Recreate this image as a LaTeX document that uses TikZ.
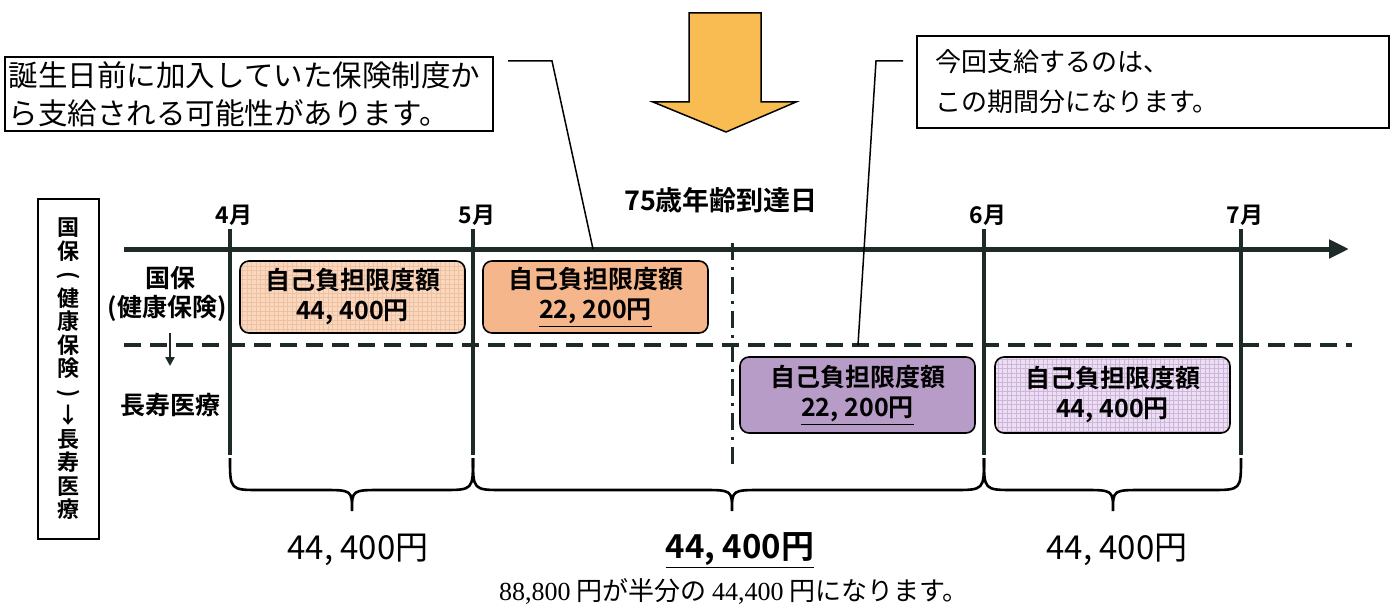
\documentclass[tikz,border=0pt]{standalone}
\usepackage{fontspec}
\usepackage{graphicx}
\usetikzlibrary{arrows.meta}
\newfontfamily\jp{Noto Sans CJK JP}
\newfontfamily\jpbold{Noto Sans CJK JP Bold}
\newfontfamily\lserif{Liberation Serif}
\definecolor{peach}{HTML}{FAD8BE}
\definecolor{peachgrid}{HTML}{EFC0A2}
\definecolor{salmon}{HTML}{F6B68C}
\definecolor{violet}{HTML}{B89CC8}
\definecolor{lavender}{HTML}{EDDFF3}
\definecolor{lavgrid}{HTML}{CDB6DA}
\definecolor{arroworange}{HTML}{F9BC52}
\definecolor{axisc}{HTML}{1E2A28}
\tikzset{
  every node/.style={inner sep=0pt},
  limbox/.style={draw=black, line width=1.6pt, rounded corners=9pt, align=center,
    font=\jpbold\fontsize{25}{30}\selectfont},
  gridfill/.style={path picture={\draw[#1, line width=0.5pt, step=4.5pt]
    (path picture bounding box.south west) grid (path picture bounding box.north east);}},
  callout/.style={draw=black, line width=1.4pt, align=left},
  leader/.style={draw=black, line width=1.5pt},
  monthline/.style={draw=axisc, line width=3.5pt},
  monthlabel/.style={font=\jpbold\fontsize{23}{26}\selectfont},
  sidelabel/.style={font=\jpbold\fontsize{25}{28}\selectfont},
  bracestyle/.style={draw=black, line width=2.6pt},
  amount/.style={font=\jp\fontsize{33}{36}\selectfont},
}
\newcommand\mybrace[3]{\draw[bracestyle] (#1,458) .. controls (#1,490) .. ({#1+30},490) -- ({#2-30},490) .. controls (#2,490) .. (#2,511) .. controls (#2,490) .. ({#2+30},490) -- ({#3-30},490) .. controls (#3,490) .. (#3,458);}
\newcommand\vparen[1]{\rotatebox[origin=c]{-90}{#1}}
\begin{document}
\begin{tikzpicture}[x=1pt,y=-1pt]
\useasboundingbox (0,0) rectangle (1393,607);

% big orange arrow
\draw[fill=arroworange, draw=black, line width=1.5pt, line join=miter]
  (689,13) -- (761,13) -- (761,102) -- (796,102) -- (726,132) -- (653,102) -- (689,102) -- cycle;

% callouts
\node[callout, minimum width=488pt, minimum height=74pt, text width=480pt, inner xsep=4pt,
  font=\jp\fontsize{29.5}{38}\selectfont] (c1) at (249,94)
  {誕生日前に加入していた保険制度か\\ら支給される可能性があります。};
\node[callout, minimum width=472pt, minimum height=92pt, text width=436pt, inner xsep=18pt,
  font=\jp\fontsize{26}{40}\selectfont] (c2) at (1153,82)
  {今回支給するのは、\\この期間分になります。};

% left vertical label
\node[draw=black, line width=1.8pt, minimum width=61pt, minimum height=340pt, align=center,
  font=\jpbold\fontsize{22}{23.5}\selectfont] (vcol) at (68.5,369)
  {国\\保\\\vparen{(}\\健\\康\\保\\険\\\vparen{)}\\↓\\長\\寿\\医\\療};

% coordinates
\coordinate (axL) at (124,249);
\coordinate (axR) at (1349,249);
\coordinate (dL) at (124,345);
\coordinate (dR) at (1352,345);
\foreach \n/\x in {4/230,5/473,6/984,7/1241}{
  \coordinate (t\n) at (\x,229);
  \coordinate (b\n) at (\x,455);
}
\coordinate (dtop) at (732,243);
\coordinate (dbot) at (732,468);

% dashed horizontal line
\draw[draw=axisc, line width=4pt, dash pattern=on 17pt off 9pt] (dL) -- (dR);
% dash-dot vertical line
\draw[draw=axisc, line width=3pt, dash pattern=on 17pt off 7pt on 3pt off 7pt] (dtop) -- (dbot);
% month lines
\foreach \n in {4,5,6,7}{ \draw[monthline] (t\n) -- (b\n); }
% axis
\draw[draw=axisc, line width=5pt, -{Triangle[length=20pt,width=18pt]}] (axL) -- (axR);

% month labels
\node[monthlabel] (m4) at (234,215) {4月};
\node[monthlabel] (m5) at (477,215) {5月};
\node[monthlabel] (m6) at (988,215) {6月};
\node[monthlabel] (m7) at (1245,215) {7月};
\node[font=\jpbold\fontsize{27}{30}\selectfont] (birth) at (721,200) {75歳年齢到達日};

% side labels
\node[sidelabel] (kokuho) at (170,278) {国保};
\node[sidelabel] (kenpo) at (167,308) {(健康保険)};
\coordinate (sa1) at (170,333);
\coordinate (sa2) at (170,366);
\draw[draw=axisc, line width=2.5pt, -{Triangle[length=9pt,width=9pt]}] (sa1) -- (sa2);
\node[sidelabel] (choju) at (170,405) {長寿医療};

% limit boxes
\node[limbox, fill=peach, gridfill=peachgrid, minimum width=225pt, minimum height=72pt] (b1) at (352.5,297)
  {自己負担限度額\\44, 400円};
\node[limbox, fill=salmon, minimum width=225pt, minimum height=72pt] (b2) at (595.5,297)
  {自己負担限度額\\\underline{22, 200円}};
\node[limbox, fill=violet, minimum width=235pt, minimum height=76pt] (b3) at (857.5,395)
  {自己負担限度額\\\underline{22, 200円}};
\node[limbox, fill=lavender, gridfill=lavgrid, minimum width=235pt, minimum height=76pt] (b4) at (1112.5,395)
  {自己負担限度額\\44, 400円};

% leader lines
\coordinate (l1s) at (508,61);
\coordinate (l1k) at (552,61);
\coordinate (l1e) at (593,249);
\draw[leader] (l1s) -- (l1k) -- (l1e);
\coordinate (l2s) at (903,61);
\coordinate (l2k) at (876,61);
\coordinate (l2e) at (858,345);
\draw[leader] (l2s) -- (l2k) -- (l2e);

% braces
\mybrace{230}{352}{473}
\mybrace{473}{732}{984}
\mybrace{984}{1113}{1241}

% amounts
\node[amount] (a1) at (358,550) {44, 400円};
\node[amount, font=\jpbold\fontsize{33}{36}\selectfont] (a2) at (740,550) {\underline{44, 400円}};
\node[amount] (a3) at (1117,550) {44, 400円};
\node[font=\jp\fontsize{26}{30}\selectfont] (sum) at (734,591)
  {{\lserif 88,800} 円が半分の {\lserif 44,400} 円になります。};
\end{tikzpicture}
\end{document}
